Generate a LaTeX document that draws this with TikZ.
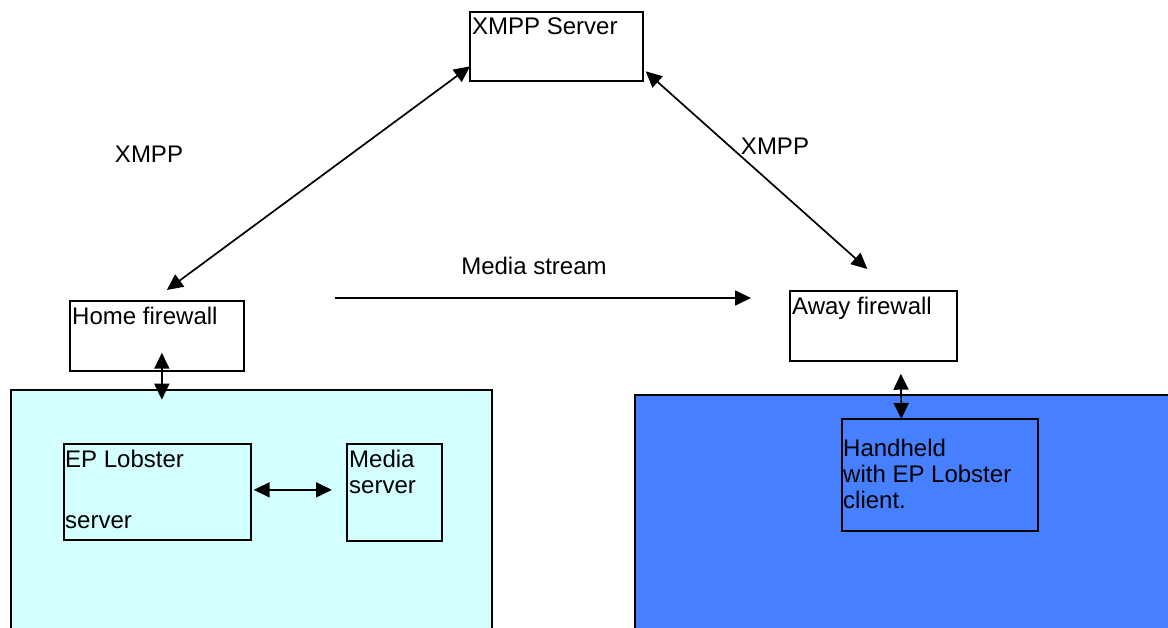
\documentclass[tikz,border=0pt]{standalone}
\usepackage{fontspec}
\setmainfont{Liberation Sans}
\usepackage{xcolor}
\definecolor{netcyan}{HTML}{D4FFFF}
\definecolor{netblue}{HTML}{4680FF}
\usepackage{tikz}
\usetikzlibrary{arrows.meta,positioning,calc}
\tikzset{
  netbox/.style={draw,line width=1.7pt,fill=white,inner sep=0pt,anchor=north west},
  netlabel/.style={inner sep=0pt,align=left,anchor=north west,font=\fontsize{24}{26}\selectfont},
  netflow/.style={-{Triangle[length=16pt,width=15pt]},line width=1.7pt},
  netlink/.style={{Triangle[length=16pt,width=15pt]}-{Triangle[length=16pt,width=15pt]},line width=1.7pt},
}
\begin{document}
\begin{tikzpicture}[x=1pt,y=-1pt]
\useasboundingbox (0,0) rectangle (1168,627);

% networks
\node[netbox,fill=netcyan,minimum width=481,minimum height=270] (homenet) at (10,389){};
\node[netbox,fill=netblue,minimum width=560,minimum height=270] (awaynet) at (634,394){};

% boxes
\node[netbox,minimum width=173,minimum height=69] (xmpp) at (469,11){};
\node[netbox,minimum width=174,minimum height=70] (home) at (69,300){};
\node[netbox,minimum width=167,minimum height=70] (away) at (789,290){};
\node[netbox,fill=netcyan,minimum width=187,minimum height=96] (lobster) at (63,443){};
\node[netbox,fill=netcyan,minimum width=95,minimum height=97] (media) at (346,443){};
\node[netbox,fill=netblue,minimum width=196,minimum height=112] (handheld) at (841,418){};

% texts
\node[netlabel] (xmpptxt) at ([shift={(3,7)}]xmpp.north west){XMPP Server};
\node[netlabel] (hometxt) at ([shift={(3,7)}]home.north west){Home firewall};
\node[netlabel] (awaytxt) at ([shift={(3,7)}]away.north west){Away firewall};
\node[netlabel] (lobstertxt) at ([shift={(2,7)}]lobster.north west){EP Lobster\\[35pt]server};
\node[netlabel] (mediatxt) at ([shift={(3,7)}]media.north west){Media\\server};
\node[netlabel] (handheldtxt) at ([shift={(2,21)}]handheld.north west){Handheld\\with EP Lobster\\client.};

% links
\draw[netlink] ([shift={(1,20)}]xmpp.west) -- ([shift={(10,-10)}]home.north);
\draw[netlink] ([shift={(2,25)}]xmpp.east) -- ([shift={(-6,-21)}]away.north);
\draw[netflow] ([shift={(90,-2)}]home.north east) -- ([shift={(-38,8)}]away.north west);
\draw[netlink] ([shift={(5,-19)}]home.south) -- ([shift={(5,28)}]home.south);
\draw[netlink] ([shift={(2,-2)}]lobster.east) -- ([shift={(-14,-2.5)}]media.west);
\draw[netlink] ([shift={(27.5,12)}]away.south) -- ([shift={(-38.5,1)}]handheld.north);

\node[netlabel,anchor=center] (xmppl) at (149,154){XMPP};
\node[netlabel,anchor=center] (xmppr) at (775,146){XMPP};
\node[netlabel,anchor=center] (streamtxt) at (534,266){Media stream};
\end{tikzpicture}
\end{document}
